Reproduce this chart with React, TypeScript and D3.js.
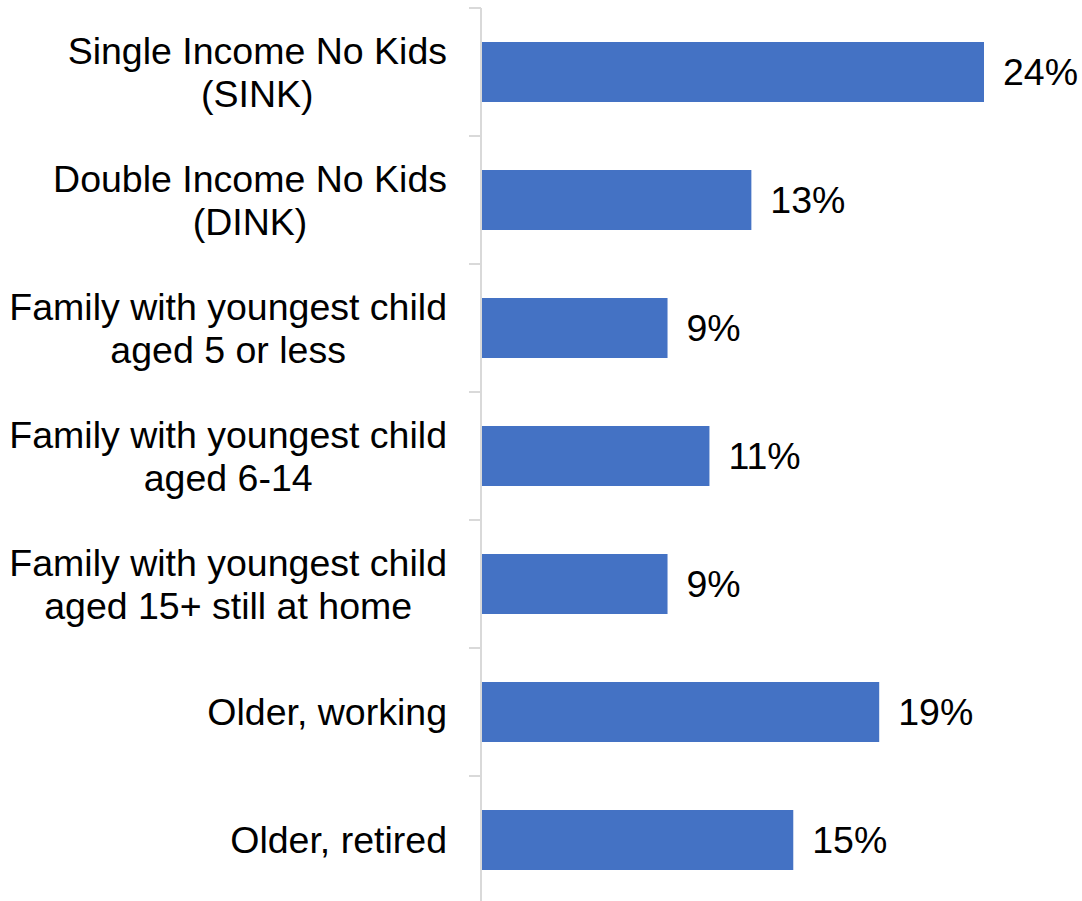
import React, { useEffect, useRef } from "react";
import * as d3 from "d3";

const categories: string[][] = [
  ["Single Income No Kids", "(SINK)"],
  ["Double Income No Kids", "(DINK)"],
  ["Family with youngest child", "aged 5 or less"],
  ["Family with youngest child", "aged 6-14"],
  ["Family with youngest child", "aged 15+ still at home"],
  ["Older, working"],
  ["Older, retired"],
];
const values: number[] = [24.0, 12.9, 8.9, 10.9, 8.9, 19.0, 14.9];
const valueLabels: string[] = ["24%", "13%", "9%", "11%", "9%", "19%", "15%"];

const W = 1082;
const H = 901;

export default function App() {
  const ref = useRef<SVGSVGElement | null>(null);
  useEffect(() => {
    const svg = d3.select(ref.current);
    svg.selectAll("*").remove();
    const font = "'Liberation Sans', Arial, sans-serif";
    const fs = 37.5;
    const x0 = 481;
    const x = d3.scaleLinear().domain([0, 24]).range([x0, x0 + 503]);
    const y = d3
      .scaleBand<number>()
      .domain(d3.range(categories.length))
      .range([8, 904])
      .paddingInner(0.53125)
      .paddingOuter(0.265625);
    const step = y.step();

    // bars
    svg
      .selectAll("rect.bar")
      .data(values)
      .enter()
      .append("rect")
      .attr("x", x0 + 1)
      .attr("y", (_, i) => y(i)!)
      .attr("width", (d) => x(d) - x0 - 1)
      .attr("height", y.bandwidth())
      .attr("fill", "#4472c4");

    // axis line
    svg
      .append("line")
      .attr("x1", x0)
      .attr("x2", x0)
      .attr("y1", 8)
      .attr("y2", 904)
      .attr("stroke", "#d9d9d9")
      .attr("stroke-width", 2);
    // ticks
    for (let i = 0; i <= categories.length; i++) {
      const ty = 8 + i * step;
      svg
        .append("line")
        .attr("x1", x0 - 12)
        .attr("x2", x0)
        .attr("y1", ty)
        .attr("y2", ty)
        .attr("stroke", "#d9d9d9")
        .attr("stroke-width", 2);
    }

    // value labels
    svg
      .selectAll("text.val")
      .data(values)
      .enter()
      .append("text")
      .attr("x", (d) => x(d) + 19)
      .attr("y", (_, i) => y(i)! + y.bandwidth() / 2)
      .attr("dy", "0.35em")
      .attr("font-family", font)
      .attr("font-size", fs)
      .attr("fill", "#000")
      .text((_, i) => valueLabels[i]);

    // category labels
    const rightEdge = 447;
    const lineH = 43;
    categories.forEach((lines, i) => {
      const cy = y(i)! + y.bandwidth() / 2;
      const g = svg.append("g");
      const texts = lines.map((l, j) =>
        g
          .append("text")
          .attr("y", cy + (j - (lines.length - 1) / 2) * lineH)
          .attr("dy", "0.35em")
          .attr("font-family", font)
          .attr("font-size", fs)
          .attr("fill", "#000")
          .attr("text-anchor", "middle")
          .text(l)
      );
      const maxW = d3.max(texts, (t) => (t.node() as SVGTextElement).getComputedTextLength()) || 0;
      texts.forEach((t) => t.attr("x", rightEdge - maxW / 2));
    });
  }, []);
  return (
    <svg
      ref={ref}
      width={W}
      height={H}
      style={{ position: "absolute", left: 0, top: 0, background: "#fff" }}
    />
  );
}
